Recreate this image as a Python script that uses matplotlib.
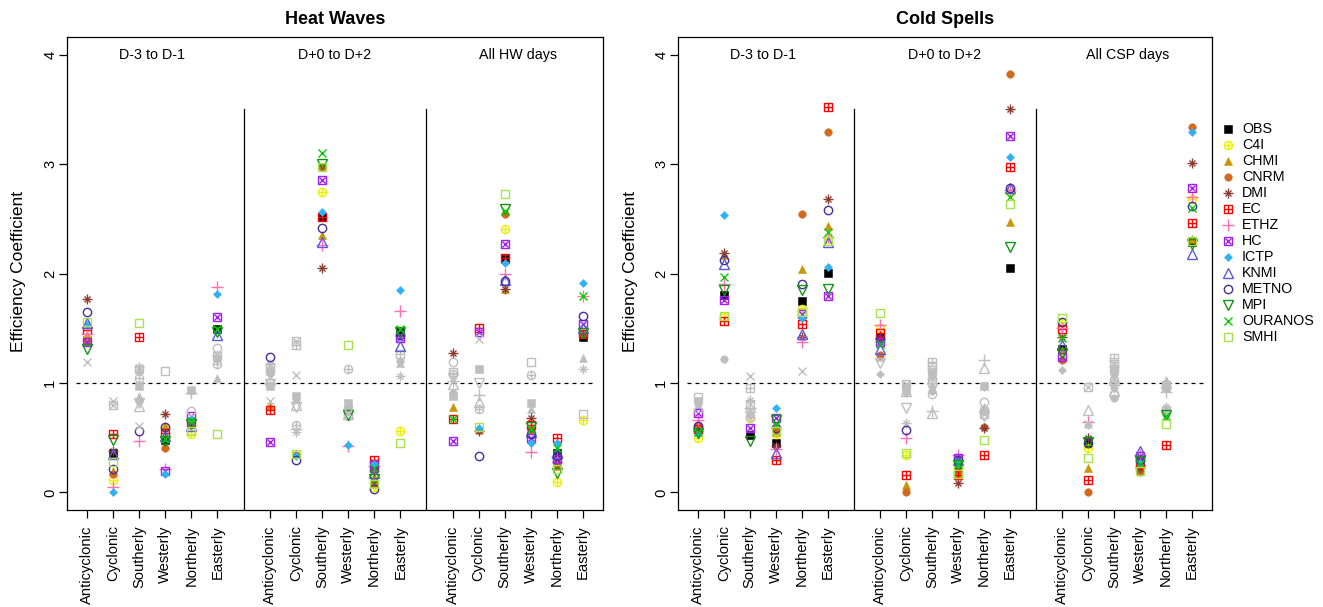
import matplotlib
matplotlib.use("Agg")
import matplotlib.pyplot as plt

plt.rcParams['font.family'] = ['Liberation Sans', 'DejaVu Sans']

MODELS = ['OBS', 'C4I', 'CHMI', 'CNRM', 'DMI', 'EC', 'ETHZ', 'HC', 'ICTP',
          'KNMI', 'METNO', 'MPI', 'OURANOS', 'SMHI']
CATEGORIES = ['Anticyclonic', 'Cyclonic', 'Southerly', 'Westerly', 'Northerly', 'Easterly']
HW_WINDOWS = ['D-3 to D-1', 'D+0 to D+2', 'All HW days']
CS_WINDOWS = ['D-3 to D-1', 'D+0 to D+2', 'All CSP days']

# values: one row per category, columns in MODELS order
# OBS   C4I   CHMI  CNRM  DMI   EC    ETHZ  HC    ICTP  KNMI  METNO MPI   OURAN SMHI
HW_PRE = [
    [1.39, 1.40, 1.42, 1.37, 1.77, 1.48, 1.45, 1.375, 1.53, 1.55, 1.65, 1.31, 1.19, 1.56],
    [0.36, 0.11, 0.20, 0.17, 0.375, 0.53, 0.05, 0.80, 0.00, 0.35, 0.215, 0.48, 0.84, 0.275],
    [0.97, 1.05, 0.88, 0.84, 1.15, 1.42, 0.47, 1.13, 1.10, 0.79, 0.56, 0.82, 0.61, 1.55],
    [0.48, 0.59, 0.61, 0.41, 0.72, 0.545, 0.21, 0.20, 0.165, 0.52, 0.60, 0.47, 0.49, 1.11],
    [0.94, 0.53, 0.64, 0.62, 0.66, 0.64, 0.91, 0.70, 0.67, 0.61, 0.745, 0.63, 0.65, 0.56],
    [1.49, 1.17, 1.05, 1.22, 1.26, 1.25, 1.88, 1.60, 1.81, 1.44, 1.32, 1.47, 1.49, 0.535],
]
HW_PRE_SIG = [
    [1, 1, 1, 1, 1, 1, 1, 1, 1, 1, 1, 1, 0, 1],
    [1, 1, 1, 1, 1, 1, 1, 0, 1, 1, 1, 1, 0, 1],
    [0, 0, 0, 0, 0, 1, 1, 0, 0, 0, 1, 0, 0, 1],
    [1, 1, 1, 1, 1, 1, 1, 1, 1, 1, 1, 1, 1, 0],
    [0, 1, 1, 1, 1, 1, 0, 1, 1, 1, 0, 1, 1, 1],
    [1, 0, 0, 0, 0, 0, 1, 1, 1, 1, 0, 1, 1, 1],
]
HW_DUR = [
    [0.97, 1.10, 0.79, 1.12, 1.17, 0.755, 1.00, 0.46, 1.08, 1.03, 1.24, 0.99, 0.84, 1.15],
    [0.88, 0.62, 0.85, 0.34, 0.55, 1.35, 0.58, 1.38, 0.33, 0.80, 0.30, 0.78, 1.07, 0.35],
    [2.52, 2.745, 2.355, 2.97, 2.05, 2.52, 2.26, 2.855, 2.56, 2.285, 2.42, 3.00, 3.10, 2.97],
    [0.82, 1.13, 0.80, 0.78, 0.76, 0.75, 0.42, 0.74, 0.435, 0.72, 0.70, 0.71, 0.73, 1.35],
    [0.22, 0.05, 0.14, 0.09, 0.20, 0.30, 0.24, 0.25, 0.26, 0.18, 0.03, 0.12, 0.22, 0.08],
    [1.465, 0.56, 1.18, 1.20, 1.06, 1.265, 1.655, 1.41, 1.845, 1.34, 1.44, 1.47, 1.49, 0.45],
]
HW_DUR_SIG = [
    [0, 0, 1, 0, 0, 1, 0, 1, 0, 0, 1, 0, 0, 0],
    [0, 0, 0, 1, 0, 0, 0, 0, 1, 0, 1, 0, 0, 1],
    [1, 1, 1, 1, 1, 1, 1, 1, 1, 1, 1, 1, 1, 1],
    [0, 0, 0, 0, 0, 0, 1, 0, 1, 0, 0, 1, 0, 1],
    [1, 1, 1, 1, 1, 1, 1, 1, 1, 1, 1, 1, 1, 1],
    [1, 1, 0, 0, 0, 0, 1, 1, 1, 1, 1, 1, 1, 1],
]
HW_ALL = [
    [0.88, 1.08, 0.785, 0.90, 1.27, 0.67, 1.02, 0.466, 0.92, 0.99, 1.19, 1.05, 0.67, 1.10],
    [1.125, 0.76, 0.58, 0.57, 0.56, 1.50, 0.89, 1.47, 0.59, 0.83, 0.335, 1.00, 1.40, 0.60],
    [2.13, 2.41, 1.86, 2.54, 1.86, 2.14, 2.00, 2.27, 2.10, 1.94, 1.935, 2.59, 2.57, 2.725],
    [0.82, 1.07, 0.76, 0.57, 0.68, 0.62, 0.37, 0.50, 0.455, 0.55, 0.53, 0.60, 0.58, 1.19],
    [0.36, 0.10, 0.24, 0.26, 0.28, 0.50, 0.32, 0.31, 0.455, 0.36, 0.33, 0.18, 0.41, 0.21],
    [1.42, 0.66, 1.225, 1.45, 1.13, 1.45, 1.79, 1.535, 1.915, 1.50, 1.61, 1.46, 1.79, 0.715],
]
HW_ALL_SIG = [
    [0, 0, 1, 0, 1, 1, 0, 1, 0, 0, 0, 0, 1, 0],
    [0, 0, 1, 1, 1, 1, 0, 1, 1, 0, 1, 0, 0, 1],
    [1, 1, 1, 1, 1, 1, 1, 1, 1, 1, 1, 1, 1, 1],
    [0, 0, 0, 1, 1, 1, 1, 1, 1, 1, 1, 1, 1, 0],
    [1, 1, 1, 1, 1, 1, 1, 1, 1, 1, 1, 1, 1, 1],
    [1, 1, 0, 1, 0, 1, 1, 1, 1, 1, 1, 1, 1, 0],
]
CS_PRE = [
    [0.84, 0.50, 0.80, 0.62, 0.56, 0.58, 0.66, 0.725, 0.53, 0.78, 0.61, 0.54, 0.55, 0.87],
    [1.80, 1.60, 2.17, 1.215, 2.19, 1.57, 1.90, 1.755, 2.535, 2.09, 2.125, 1.85, 1.97, 1.61],
    [0.527, 0.68, 0.74, 0.72, 0.845, 0.95, 0.77, 0.59, 0.70, 0.78, 0.69, 0.467, 1.065, 0.80],
    [0.45, 0.53, 0.55, 0.58, 0.42, 0.30, 0.40, 0.68, 0.77, 0.36, 0.59, 0.66, 0.62, 0.56],
    [1.745, 1.68, 2.04, 2.54, 1.42, 1.54, 1.375, 1.63, 1.59, 1.45, 1.905, 1.845, 1.11, 1.65],
    [2.005, 2.315, 2.43, 3.29, 2.68, 3.52, 2.33, 1.795, 2.06, 2.285, 2.58, 1.86, 2.38, 2.30],
]
CS_PRE_SIG = [
    [0, 1, 0, 1, 1, 1, 1, 1, 1, 0, 1, 1, 1, 0],
    [1, 1, 1, 0, 1, 1, 1, 1, 1, 1, 1, 1, 1, 1],
    [1, 1, 0, 0, 0, 0, 0, 1, 0, 0, 0, 1, 0, 0],
    [1, 1, 1, 1, 1, 1, 1, 1, 1, 1, 1, 1, 1, 1],
    [1, 1, 1, 1, 1, 1, 1, 1, 1, 1, 1, 1, 0, 1],
    [1, 1, 1, 1, 1, 1, 1, 1, 1, 1, 1, 1, 1, 1],
]
CS_DUR = [
    [1.42, 1.50, 1.24, 1.255, 1.41, 1.46, 1.53, 1.37, 1.08, 1.315, 1.40, 1.185, 1.36, 1.635],
    [0.95, 0.345, 0.07, 0.00, 0.635, 0.16, 0.50, 0.995, 0.91, 0.93, 0.575, 0.77, 0.97, 0.36],
    [1.10, 1.03, 1.09, 0.93, 1.05, 1.195, 0.74, 1.12, 0.96, 0.725, 0.90, 0.95, 1.08, 1.15],
    [0.22, 0.23, 0.17, 0.19, 0.09, 0.16, 0.345, 0.315, 0.27, 0.30, 0.30, 0.255, 0.26, 0.165],
    [0.97, 0.75, 0.78, 0.60, 0.59, 0.345, 1.21, 0.72, 0.96, 1.14, 0.83, 0.70, 0.74, 0.48],
    [2.05, 2.74, 2.47, 3.825, 3.50, 2.97, 2.76, 3.255, 3.06, 2.78, 2.785, 2.24, 2.695, 2.635],
]
CS_DUR_SIG = [
    [1, 1, 0, 1, 1, 1, 1, 1, 0, 1, 1, 0, 1, 1],
    [0, 1, 1, 1, 0, 1, 1, 0, 0, 0, 1, 0, 0, 1],
    [0, 0, 0, 0, 0, 0, 0, 0, 0, 0, 0, 0, 0, 0],
    [1, 1, 1, 1, 1, 1, 1, 1, 1, 1, 1, 1, 1, 1],
    [0, 0, 0, 1, 1, 1, 0, 0, 0, 0, 0, 0, 0, 1],
    [1, 1, 1, 1, 1, 1, 1, 1, 1, 1, 1, 1, 1, 1],
]
CS_ALL = [
    [1.315, 1.55, 1.30, 1.21, 1.42, 1.49, 1.50, 1.24, 1.12, 1.345, 1.56, 1.27, 1.41, 1.59],
    [0.45, 0.41, 0.22, 0.00, 0.50, 0.11, 0.64, 0.96, 0.62, 0.755, 0.45, 0.46, 0.63, 0.315],
    [1.12, 1.03, 1.08, 0.86, 1.15, 1.23, 0.98, 1.17, 0.95, 0.93, 0.90, 0.96, 1.05, 1.13],
    [0.28, 0.25, 0.24, 0.19, 0.22, 0.26, 0.345, 0.33, 0.27, 0.38, 0.30, 0.29, 0.26, 0.20],
    [0.95, 0.76, 1.03, 0.74, 0.78, 0.435, 0.92, 0.98, 0.97, 1.00, 0.73, 0.71, 0.70, 0.63],
    [2.285, 2.68, 2.315, 3.34, 3.01, 2.46, 2.70, 2.78, 3.29, 2.18, 2.62, 2.27, 2.60, 2.30],
]
CS_ALL_SIG = [
    [1, 1, 1, 1, 1, 1, 1, 1, 0, 1, 1, 1, 1, 1],
    [1, 1, 1, 1, 1, 1, 1, 0, 0, 0, 1, 1, 0, 1],
    [0, 0, 0, 0, 0, 0, 0, 0, 0, 0, 0, 0, 0, 0],
    [1, 1, 1, 1, 1, 1, 1, 1, 1, 1, 1, 1, 1, 1],
    [0, 0, 0, 0, 0, 1, 0, 0, 0, 0, 0, 1, 1, 1],
    [1, 1, 1, 1, 1, 1, 1, 1, 1, 1, 1, 1, 1, 1],
]

# ---------------------------------------------------------------- styles
COLORS = {
    'OBS': '#000000', 'C4I': '#EEEE00', 'CHMI': '#C8960A', 'CNRM': '#D2691E',
    'DMI': '#8B3A30', 'EC': '#FF0000', 'ETHZ': '#FF6EB4', 'HC': '#A020F0',
    'ICTP': '#2EB2F5', 'KNMI': '#5A5AE0', 'METNO': '#482C9C', 'MPI': '#149414',
    'OURANOS': '#00CD00', 'SMHI': '#A6E34E',
}
GRAY = '#BEBEBE'
# (marker, markersize, filled)
SHAPES = {
    'OBS': [('s', 5.3, True)],
    'C4I': [('o', 5.9, False), ('+', 5.9, None)],
    'CHMI': [('^', 6.2, True)],
    'CNRM': [('o', 5.4, True)],
    'DMI': [('+', 6.8, None), ('x', 4.9, None)],
    'EC': [('s', 5.6, False), ('+', 5.6, None)],
    'ETHZ': [('+', 8.0, None)],
    'HC': [('s', 5.6, False), ('x', 4.0, None)],
    'ICTP': [('D', 3.6, True)],
    'KNMI': [('^', 7.0, False)],
    'METNO': [('o', 6.0, False)],
    'MPI': [('v', 7.0, False)],
    'OURANOS': [('x', 5.3, None)],
    'SMHI': [('s', 5.6, False)],
}


def draw_marker(ax, x, y, model, color, **kw):
    for mk, ms, filled in SHAPES[model]:
        if filled is True:
            ax.plot(x, y, linestyle='none', marker=mk, ms=ms, mfc=color, mec=color,
                    mew=0.4, **kw)
        elif filled is False:
            ax.plot(x, y, linestyle='none', marker=mk, ms=ms, mfc='none', mec=color,
                    mew=1.0, **kw)
        else:
            ax.plot(x, y, linestyle='none', marker=mk, ms=ms, mec=color, mew=1.0, **kw)


W, H = 1323, 607
fig = plt.figure(figsize=(W / 100, H / 100), dpi=100)


def px_axes(x0, y0, x1, y1):
    return fig.add_axes([x0 / W, 1 - y1 / H, (x1 - x0) / W, (y1 - y0) / H])


def panel(ax, title, windows, datasets, sigsets):
    ax.set_xlim(0.24, 20.76)
    ax.set_ylim(-0.16, 4.16)
    for g, (vals, sigs) in enumerate(zip(datasets, sigsets)):
        for c in range(len(CATEGORIES)):
            x = 1 + c + 7 * g
            for m, model in enumerate(MODELS):
                col = COLORS[model] if sigs[c][m] else GRAY
                draw_marker(ax, x, vals[c][m], model, col, zorder=3)
        ax.text(3.5 + 7 * g, 4.0, windows[g], ha='center', va='center', fontsize=10.3)
    ax.plot([0.6, 20.4], [1, 1], linestyle=(0, (3.2, 3.2)), color='black', lw=0.9, zorder=2)
    for xv in (7, 14):
        ax.plot([xv, xv], [-0.16, 3.5], color='black', lw=0.9, zorder=2)
    ticks = [1 + c + 7 * g for g in range(3) for c in range(6)]
    ax.set_xticks(ticks)
    ax.set_xticklabels(CATEGORIES * 3, rotation=90, fontsize=10.6)
    ax.set_yticks([0, 1, 2, 3, 4])
    ax.set_yticklabels(['0', '1', '2', '3', '4'], rotation=90, va='center', fontsize=10.6)
    ax.tick_params(axis='both', direction='out', length=6, width=0.9)
    ax.tick_params(axis='x', pad=5)
    ax.tick_params(axis='y', pad=1)
    for s in ax.spines.values():
        s.set_linewidth(0.9)
    ax.set_title(title, fontweight='bold', fontsize=13, pad=9)


ax1 = px_axes(67, 37, 603, 510)
panel(ax1, 'Heat Waves', HW_WINDOWS, [HW_PRE, HW_DUR, HW_ALL],
      [HW_PRE_SIG, HW_DUR_SIG, HW_ALL_SIG])
ax2 = px_axes(678, 37, 1212, 510)
panel(ax2, 'Cold Spells', CS_WINDOWS, [CS_PRE, CS_DUR, CS_ALL],
      [CS_PRE_SIG, CS_DUR_SIG, CS_ALL_SIG])

fig.text(19 / W, 1 - 272 / H, 'Efficiency Coefficient', rotation=90,
         ha='center', va='center', fontsize=12.5)
fig.text(631 / W, 1 - 272 / H, 'Efficiency Coefficient', rotation=90,
         ha='center', va='center', fontsize=12.5)

# legend drawn in a pixel-coordinate overlay
lax = fig.add_axes([0, 0, 1, 1], facecolor='none')
lax.set_xlim(0, W)
lax.set_ylim(H, 0)
lax.axis('off')
for i, model in enumerate(MODELS):
    yy = 129 + 16 * i
    draw_marker(lax, 1228, yy, model, COLORS[model])
    lax.text(1242, yy, model, ha='left', va='center', fontsize=10.3)

fig.savefig('out.png', dpi=100)
